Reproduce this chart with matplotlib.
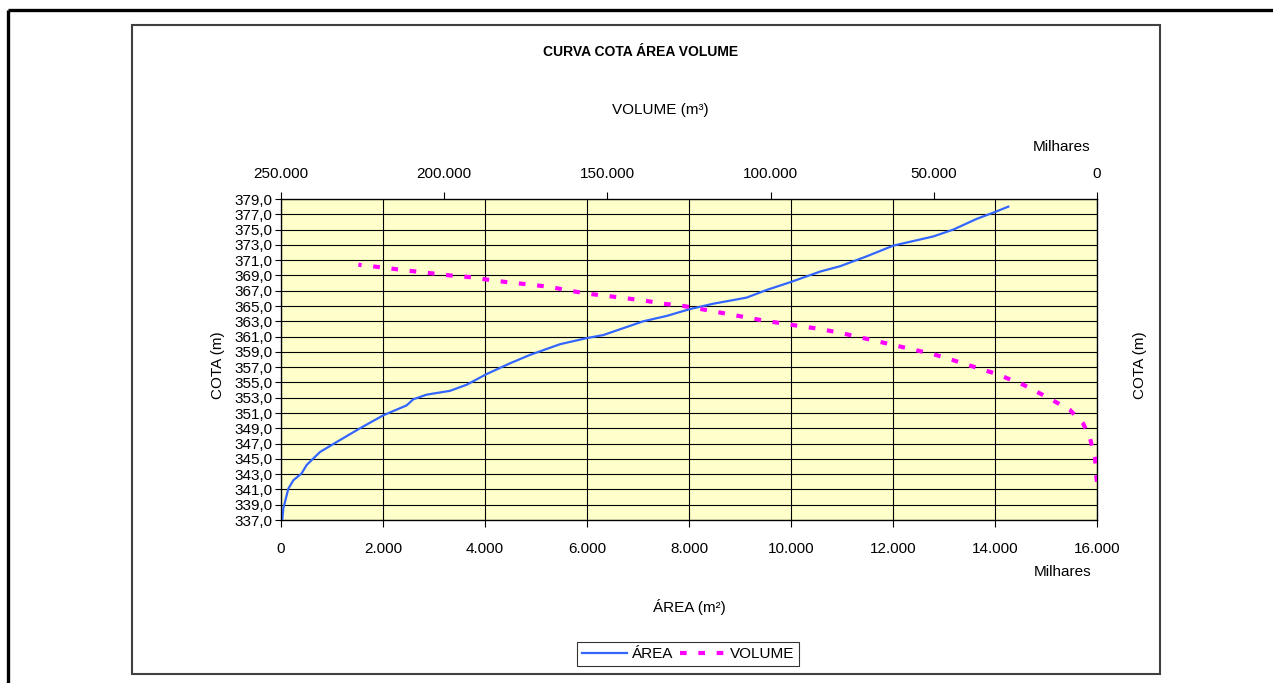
import matplotlib
matplotlib.use("Agg")
import matplotlib.pyplot as plt
from matplotlib.ticker import FuncFormatter, MultipleLocator, FixedLocator
from matplotlib.patches import Rectangle
from matplotlib.lines import Line2D

plt.rcParams['font.family'] = ['Liberation Sans', 'DejaVu Sans']

# ---- data (area and volume in thousands) ----
area_k = [25, 45, 144, 242, 405, 503, 765, 1091, 1549, 2006, 2464, 2595, 2856,
          3314, 3641, 4033, 4490, 4882, 5471, 5994, 6320, 7104, 7562, 8020,
          8477, 9131, 9523, 9980, 10569, 10961, 11484, 12006, 12398, 12790,
          13183, 13641, 14000, 14261]
area_cota = [337.0, 338.5, 341.1, 342.2, 343.1, 344.2, 345.9, 347.2, 349.0, 350.7,
             352.0, 352.8, 353.4, 353.9, 354.7, 356.1, 357.5, 358.6, 360.0, 360.8,
             361.2, 363.0, 363.7, 364.6, 365.3, 366.1, 367.1, 368.1, 369.5, 370.2,
             371.5, 372.9, 373.5, 374.1, 375.0, 376.4, 377.3, 378.0]

vol_k = [0, 300, 600, 2150, 4200, 8300, 15400, 22600, 30700, 38900, 44000, 50200,
         56300, 62400, 69500, 77700, 84900, 93000, 102200, 112400, 122600, 126700,
         132900, 138500, 144100, 149700, 155900, 161500, 167600, 173700, 180400,
         186000, 192600, 198200, 206400, 212500, 220200, 226300]
vol_cota = [342.0, 343.0, 345.1, 347.7, 349.6, 351.4, 353.1, 354.7, 356.1, 357.2,
            357.9, 358.7, 359.3, 359.9, 360.6, 361.4, 362.0, 362.5, 363.1, 363.9,
            364.7, 365.0, 365.3, 365.7, 366.0, 366.3, 366.6, 367.0, 367.5, 367.8,
            368.1, 368.4, 368.8, 369.0, 369.4, 369.7, 370.1, 370.4]

cota_ticks = list(range(337, 380, 2))
title = "CURVA COTA ÁREA VOLUME"
series_names = ["ÁREA", "VOLUME"]

FS = 11
TFS = 10

W, H = 1273, 683
fig = plt.figure(figsize=(W / 100, H / 100), dpi=100)
fig.patch.set_facecolor("white")

def fx(px):
    return px / W

def fy(py):
    return 1 - py / H

# frames
fig.add_artist(Line2D([fx(8), fx(1273)], [fy(10), fy(10)], color="black", lw=2.4,
                      transform=fig.transFigure, solid_capstyle="butt"))
fig.add_artist(Line2D([fx(8), fx(8)], [fy(10), fy(683)], color="black", lw=2.4,
                      transform=fig.transFigure, solid_capstyle="butt"))
fig.add_artist(Rectangle((fx(132), fy(674)), fx(1160) - fx(132), fy(25) - fy(674),
                         transform=fig.transFigure, fill=False, edgecolor="#404040", lw=1.5))

L, R, T, B = 281, 1097, 199, 520
ax = fig.add_axes([fx(L), fy(B), fx(R) - fx(L), fy(T) - fy(B)])
ax.set_facecolor("#FFFFCC")
ax.set_xlim(0, 16000)
ax.set_ylim(337, 379)
ax.xaxis.set_major_locator(MultipleLocator(2000))
ax.yaxis.set_major_locator(FixedLocator(cota_ticks))
ax.xaxis.set_major_formatter(FuncFormatter(lambda v, p: f"{int(round(v)):,}".replace(",", ".")))
ax.yaxis.set_major_formatter(FuncFormatter(lambda v, p: f"{v:.1f}".replace(".", ",")))
ax.grid(True, color="black", lw=0.8)
ax.set_axisbelow(True)
ax.tick_params(axis="x", direction="out", length=5, pad=11, labelsize=FS, width=0.8)
ax.tick_params(axis="y", direction="out", length=4, pad=2, labelsize=FS, width=0.8)
for s in ax.spines.values():
    s.set_color("black")
    s.set_linewidth(0.9)

l1, = ax.plot(area_k, area_cota, color="#3366FF", lw=1.6, zorder=5)

ax2 = ax.twiny()
ax2.set_xlim(250000, 0)
ax2.xaxis.set_major_locator(MultipleLocator(50000))
ax2.xaxis.set_major_formatter(FuncFormatter(lambda v, p: f"{int(round(v)):,}".replace(",", ".")))
ax2.tick_params(axis="x", direction="out", length=5, pad=8, labelsize=FS, width=0.8)
l2, = ax2.plot(vol_k, vol_cota, color="#FF00FF", lw=3.0,
               linestyle=(0, (1.6, 2.8)), dash_capstyle="butt", zorder=5)

# texts
fig.text(fx(641), fy(52), title, ha="center", va="center", fontsize=TFS, fontweight="bold")
fig.text(fx(660), fy(110), "VOLUME (m³)", ha="center", va="center", fontsize=FS)
fig.text(fx(1062), fy(147), "Milhares", ha="center", va="center", fontsize=FS)
fig.text(fx(1063), fy(572), "Milhares", ha="center", va="center", fontsize=FS)
fig.text(fx(689), fy(607), "ÁREA (m²)", ha="center", va="center", fontsize=FS)
fig.text(fx(218), fy(365), "COTA (m)", ha="center", va="center", rotation=90, fontsize=FS)
fig.text(fx(1140), fy(365), "COTA (m)", ha="center", va="center", rotation=90, fontsize=FS)

leg = fig.legend([l1, l2], series_names, loc="center", bbox_to_anchor=(fx(688), fy(654)),
                 ncol=2, frameon=True, fancybox=False, edgecolor="black", fontsize=FS,
                 handlelength=3.0, handletextpad=0.3, columnspacing=0.4,
                 borderpad=0.3, borderaxespad=0)
leg.get_frame().set_linewidth(0.8)

fig.savefig("out.png", dpi=100)
